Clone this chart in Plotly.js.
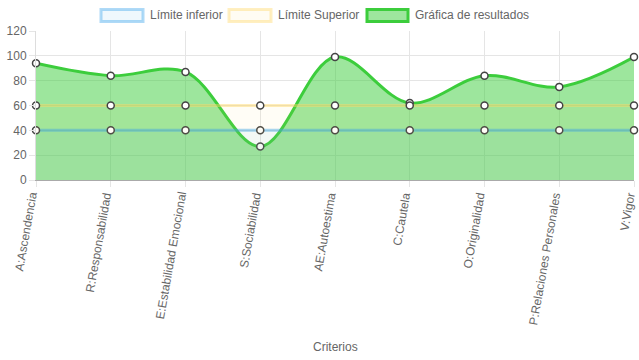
<!DOCTYPE html>
<html><head><meta charset="utf-8">
<script src="https://cdn.plot.ly/plotly-3.0.1.min.js"></script>
<style>html,body{margin:0;padding:0;background:#fff}#chart{width:639px;height:360px}</style>
</head><body><div id="chart"></div>
<script>
const categories = ["A:Ascendencia","R:Responsabilidad","E:Estabilidad Emocional","S:Sociabilidad","AE:Autoestima","C:Cautela","O:Originalidad","P:Relaciones Personales","V:Vigor"];
const limiteInferior = [40,40,40,40,40,40,40,40,40];
const limiteSuperior = [60,60,60,60,60,60,60,60,60];
const resultados = [94,84,87,27,99,62,84,75,99];
const seriesNames = ['Límite inferior','Límite Superior','Gráfica de resultados'];
const xTitle = 'Criterios';

// plot geometry (pixels)
const W = 639, H = 360, L = 36, R = 5, T = 31, B = 180;
const pw = W - L - R, ph = H - T - B;
const px = p => (p - L) / pw;
const py = p => (H - B - p) / ph;

const marker = {size:7, color:'#ffffff', line:{color:'#444', width:1.5}};
const colors = {
  inf:{line:'rgba(54,162,235,0.45)', fill:'rgba(54,162,235,0.06)', legFill:'rgba(54,162,235,0.08)', legLine:'rgba(54,162,235,0.4)'},
  sup:{line:'rgba(255,215,100,0.45)', fill:'rgba(255,215,100,0.06)', legFill:'rgba(255,215,100,0.08)', legLine:'rgba(255,215,100,0.4)'},
  res:{line:'#3ccd3c', fill:'rgba(60,205,60,0.5)'}
};
const traces = [
  {x:categories, y:resultados, name:seriesNames[2], type:'scatter', mode:'lines+markers',
   line:{color:colors.res.line, width:3, shape:'spline', smoothing:1}, fill:'tozeroy', fillcolor:colors.res.fill,
   marker:marker, cliponaxis:false},
  {x:categories, y:limiteInferior, name:seriesNames[0], type:'scatter', mode:'lines+markers',
   line:{color:colors.inf.line, width:3}, fill:'tozeroy', fillcolor:colors.inf.fill,
   marker:marker, cliponaxis:false},
  {x:categories, y:limiteSuperior, name:seriesNames[1], type:'scatter', mode:'lines+markers',
   line:{color:colors.sup.line, width:3}, fill:'tozeroy', fillcolor:colors.sup.fill,
   marker:marker, cliponaxis:false}
];

// legend drawn manually (Chart.js-style boxes)
const legendItems = [
  {box:[101,143], textX:148, fill:colors.inf.legFill, line:colors.inf.legLine, name:seriesNames[0]},
  {box:[229,271], textX:276, fill:colors.sup.legFill, line:colors.sup.legLine, name:seriesNames[1]},
  {box:[367,408], textX:413, fill:colors.res.fill, line:colors.res.line, name:seriesNames[2]}
];
const shapes = legendItems.map(it => ({type:'rect', xref:'paper', yref:'paper',
  x0:px(it.box[0]), x1:px(it.box[1]), y0:py(21.5), y1:py(9.5),
  fillcolor:it.fill, line:{color:it.line, width:3}}));
const annotations = legendItems.map(it => ({xref:'paper', yref:'paper', x:px(it.textX), y:py(15.5),
  xanchor:'left', yanchor:'middle', text:it.name, showarrow:false, font:{size:12, color:'#666'}}));

// rotated category labels
categories.forEach(c => annotations.push({xref:'x', yref:'paper', x:c, y:0, xanchor:'right', yanchor:'top',
  xshift:6, yshift:-9, textangle:-80, text:c, showarrow:false, font:{size:12, color:'#666'}}));
annotations.push({xref:'paper', yref:'paper', x:0.5, y:py(347), xanchor:'center', yanchor:'middle',
  text:xTitle, showarrow:false, font:{size:12, color:'#666'}});

const layout = {
  width:W, height:H,
  margin:{l:L, r:R, t:T, b:B},
  paper_bgcolor:'#fff', plot_bgcolor:'#fff',
  font:{family:'Liberation Sans, Arial, sans-serif', size:12, color:'#666'},
  showlegend:false,
  xaxis:{type:'category', range:[0,8], showgrid:true, gridcolor:'#e5e5e5', showticklabels:false,
         ticks:'outside', ticklen:6, tickcolor:'#e5e5e5', showline:true, linecolor:'#aaa', zeroline:false, automargin:false},
  yaxis:{range:[0,120], dtick:20, showgrid:true, gridcolor:'#e5e5e5', ticks:'outside', ticklen:6,
         tickcolor:'#e5e5e5', showline:true, linecolor:'#ddd', zeroline:false, automargin:false},
  shapes:shapes, annotations:annotations
};
Plotly.newPlot('chart', traces, layout, {displayModeBar:false, staticPlot:true});
</script></body></html>
